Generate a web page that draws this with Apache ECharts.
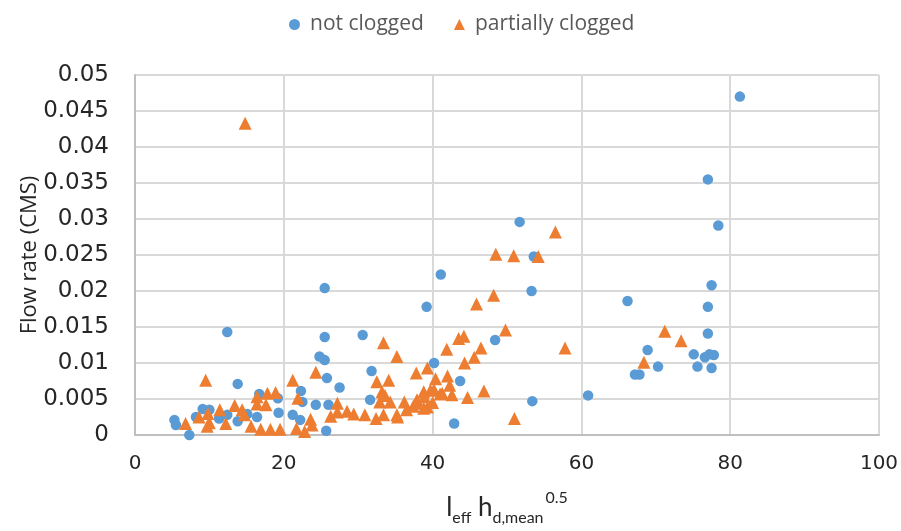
<!DOCTYPE html>
<html>
<head>
<meta charset="utf-8">
<script src="https://cdn.jsdelivr.net/npm/echarts@6/dist/echarts.min.js"></script>
<style>html,body{margin:0;padding:0;background:#fff;overflow:hidden;}#c{width:901px;height:531px;}</style>
</head>
<body>
<div id="c"></div>
<script>
var seriesNames = ['not clogged', 'partially clogged'];
var xTicks = [0, 20, 40, 60, 80, 100];
var yTicks = [0, 0.005, 0.01, 0.015, 0.02, 0.025, 0.03, 0.035, 0.04, 0.045, 0.05];

var notClogged = [
  [5.3,0.0021],[5.5,0.0014],[7.3,0.0],[8.2,0.0025],[9.1,0.0036],[10.0,0.0035],[11.3,0.0023],
  [12.4,0.0143],[12.4,0.0028],[13.8,0.0071],[13.8,0.0019],[15.1,0.0029],[16.4,0.0025],[16.7,0.0057],
  [19.2,0.0051],[19.3,0.0031],[21.2,0.0028],[22.2,0.0021],[22.3,0.0061],[22.5,0.0046],[24.3,0.0042],
  [24.8,0.0109],[25.5,0.0104],[25.5,0.0204],[25.5,0.0136],[25.8,0.0079],[25.7,0.0006],[26.0,0.0042],
  [27.5,0.0066],[30.6,0.0139],[31.8,0.0089],[31.6,0.0049],[39.2,0.0178],[40.2,0.0100],[41.1,0.0223],
  [42.9,0.0016],[43.7,0.0075],[48.4,0.0132],[51.7,0.0296],[53.3,0.0200],[53.6,0.0248],[53.4,0.0047],
  [60.9,0.0055],[66.2,0.0186],[67.2,0.0084],[67.8,0.0084],[68.9,0.0118],[70.3,0.0095],[75.1,0.0112],
  [75.6,0.0095],[76.6,0.0108],[77.0,0.0355],[77.0,0.0178],[77.0,0.0141],[77.2,0.0112],[77.5,0.0208],
  [77.5,0.0093],[77.8,0.0111],[78.4,0.0291],[81.3,0.0470]
];

var partiallyClogged = [
  [6.8,0.0016],[8.6,0.0025],[9.5,0.0076],[9.7,0.0012],[10.0,0.0017],[9.8,0.0030],[11.4,0.0035],
  [12.2,0.0016],[13.4,0.0041],[14.4,0.0035],[14.7,0.0028],[14.8,0.0433],[15.6,0.0012],[16.4,0.0053],
  [16.4,0.0043],[16.9,0.0008],[17.6,0.0042],[17.8,0.0058],[18.2,0.0008],[18.9,0.0059],[19.5,0.0008],
  [21.2,0.0076],[21.7,0.0009],[21.9,0.0051],[22.8,0.0005],[23.6,0.0022],[23.8,0.0014],[24.3,0.0087],
  [26.3,0.0026],[27.2,0.0044],[27.2,0.0032],[28.5,0.0033],[29.4,0.0029],[30.9,0.0028],[32.4,0.0023],
  [32.5,0.0074],[32.9,0.0046],[33.2,0.0060],[33.4,0.0128],[33.4,0.0028],[33.6,0.0055],[34.1,0.0076],
  [34.3,0.0046],[35.2,0.0109],[35.2,0.0028],[36.2,0.0046],[37.4,0.0040],[37.8,0.0086],[37.9,0.0049],
  [38.8,0.0037],[38.8,0.0060],[39.3,0.0093],[39.7,0.0062],[40.4,0.0078],[41.0,0.0057],[41.9,0.0119],
  [42.0,0.0082],[42.3,0.0069],[42.6,0.0056],[43.5,0.0134],[44.2,0.0137],[44.3,0.0100],[44.7,0.0052],
  [45.6,0.0108],[45.9,0.0182],[46.5,0.0121],[46.9,0.0061],[48.2,0.0194],[48.5,0.0251],[49.8,0.0146],
  [50.9,0.0249],[51.0,0.0023],[54.2,0.0248],[56.5,0.0282],[57.8,0.0121],[68.4,0.0101],[71.2,0.0144],
  [73.4,0.0131],[39.3,0.0039],[40.2,0.0063],[35.3,0.0025],[37.8,0.0044],[40.0,0.0045],[36.5,0.0035],
  [41.3,0.0058],[38.9,0.0053]
];

var chart = echarts.init(document.getElementById('c'), null, {renderer: 'canvas', width: 901, height: 531});
chart.setOption({
  animation: false,
  backgroundColor: '#ffffff',
  legend: {
    top: 9,
    left: 284,
    itemGap: 30,
    itemWidth: 11,
    itemHeight: 11,
    textStyle: {fontFamily: '"Open Sans"', fontSize: 21, color: '#595959', padding: [0, 0, 0, 5]},
    data: [
      {name: seriesNames[0], icon: 'circle'},
      {name: seriesNames[1], icon: 'triangle'}
    ]
  },
  grid: {left: 135, right: 22, top: 75, bottom: 96, containLabel: false, outerBoundsMode: 'none'},
  xAxis: {
    type: 'value',
    min: xTicks[0], max: xTicks[xTicks.length - 1], interval: 20,
    axisLine: {show: true, lineStyle: {color: '#bfbfbf', width: 2}},
    axisTick: {show: false},
    splitLine: {show: true, lineStyle: {color: '#d9d9d9', width: 2}},
    axisLabel: {margin: 19, fontFamily: '"DejaVu Sans"', fontSize: 20, color: '#262626'},
    name: '{n|l}{s|eff}{n| h}{s|d,mean}{p|0.5}',
    nameLocation: 'middle',
    nameGap: 55,
    nameMoveOverlap: false,
    nameTextStyle: {
      rich: {
        n: {fontFamily: 'Lato', fontSize: 26, color: '#262626', lineHeight: 36, verticalAlign: 'middle'},
        s: {fontFamily: 'Lato', fontSize: 16, color: '#262626', lineHeight: 36, verticalAlign: 'bottom'},
        p: {fontFamily: 'Lato', fontSize: 16, color: '#262626', lineHeight: 36, verticalAlign: 'top', padding: [0,0,0,2]}
      }
    }
  },
  yAxis: {
    type: 'value',
    min: yTicks[0], max: yTicks[yTicks.length - 1], interval: 0.005,
    axisLine: {show: true, lineStyle: {color: '#bfbfbf', width: 2}},
    axisTick: {show: false},
    splitLine: {show: true, lineStyle: {color: '#d9d9d9', width: 2}},
    axisLabel: {margin: 26, fontFamily: '"DejaVu Sans"', fontSize: 23, color: '#262626',
      formatter: function (v) { return String(+v.toFixed(3)); }},
    name: 'Flow rate (CMS)',
    nameLocation: 'middle',
    nameRotate: 90,
    nameGap: 94,
    nameMoveOverlap: false,
    nameTextStyle: {fontFamily: '"Open Sans"', fontSize: 22, color: '#262626'}
  },
  series: [
    {
      name: seriesNames[0], type: 'scatter', symbol: 'circle', symbolSize: 10.5,
      itemStyle: {color: '#5B9BD5', opacity: 1},
      data: notClogged, z: 3
    },
    {
      name: seriesNames[1], type: 'scatter', symbol: 'triangle', symbolSize: 13,
      itemStyle: {color: '#ED7D31', opacity: 1},
      data: partiallyClogged, z: 4
    }
  ]
});
</script>
</body>
</html>
